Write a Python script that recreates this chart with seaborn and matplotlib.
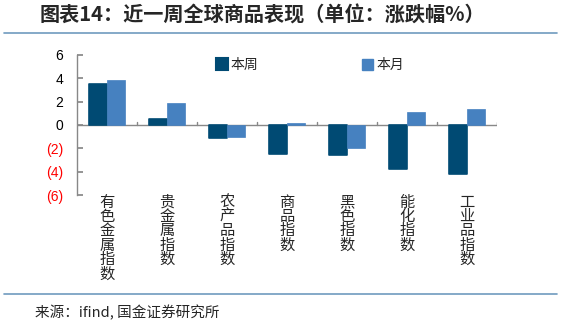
import matplotlib
matplotlib.use("Agg")
import matplotlib.pyplot as plt
import seaborn as sns
import pandas as pd
from matplotlib.patches import Patch
from matplotlib.lines import Line2D

categories = ["有色金属指数", "贵金属指数", "农产品指数", "商品指数", "黑色指数", "能化指数", "工业品指数"]
week_vals = [3.55, 0.55, -1.1, -2.5, -2.6, -3.8, -4.2]
month_vals = [3.9, 1.9, -1.05, 0.15, -2.0, 1.15, 1.35]
series_names = ["本周", "本月"]
yticks = [6, 4, 2, 0, -2, -4, -6]
title = "图表14：近一周全球商品表现（单位：涨跌幅%）"
source = "来源：ifind, 国金证券研究所"

sns.set_theme(style="white")
plt.rcParams['font.family'] = ['Noto Sans CJK SC', 'DejaVu Sans']

dark = "#004a73"
light = "#4681c0"

df = pd.DataFrame({
    "cat": categories * 2,
    "series": [series_names[0]] * len(categories) + [series_names[1]] * len(categories),
    "val": week_vals + month_vals,
})

fig = plt.figure(figsize=(5.61, 3.26), dpi=100)
ax = fig.add_axes([77/561, 1-195/326, 420/561, 140/326])

sns.barplot(data=df, x="cat", y="val", hue="series", palette=[dark, light],
            width=0.6, ax=ax, legend=False, saturation=1)
for i, p in enumerate(ax.patches):
    if i < len(categories):
        p.set_edgecolor(dark)
        p.set_linewidth(1.2)
        p.set_joinstyle("round")
    else:
        p.set_edgecolor(light)
        p.set_linewidth(0.5)

ax.set_xlim(-0.5, len(categories) - 0.5)
ax.set_ylim(-6, 6)
ax.set_yticks(yticks)
labels = ax.set_yticklabels([f"({-t})" if t < 0 else str(t) for t in yticks],
                            family=['Liberation Sans'], fontsize=10)
for t, lab in zip(yticks, labels):
    lab.set_color("red" if t < 0 else "black")
ax.tick_params(axis='y', direction='in', length=4, color="#888888", pad=10, left=True)

ax.set_xticks(range(len(categories)))
ax.set_xticklabels(["\n".join(c) for c in categories], fontsize=11, linespacing=0.8, va='top')
ax.tick_params(axis='x', length=0, pad=-1)
ax.set_xlabel("")
ax.set_ylabel("")

for s in ["top", "right", "bottom"]:
    ax.spines[s].set_visible(False)
ax.spines["left"].set_color("#888888")
ax.spines["left"].set_linewidth(1)
ax.axhline(0, color="#888888", lw=1, zorder=0.5)
for b in range(len(categories)):
    ax.plot([b + 0.5, b + 0.5], [0, 0.25], color="#888888", lw=1)

handles = [Line2D([0], [0], marker='s', ls='', markersize=9, markerfacecolor=dark,
                  markeredgecolor=dark, markeredgewidth=1.5),
           Patch(facecolor=light, edgecolor=light)]
fig.legend(handles, series_names, loc="center", bbox_to_anchor=(0.553, 0.80), ncol=2,
           frameon=False, fontsize=10, columnspacing=7.5, handlelength=0.8,
           handletextpad=0.2, handleheight=0.8)

fig.text(40/561, 1-15/326, title, fontsize=14.5, fontweight='bold',
         va='center', ha='left')
fig.add_artist(Line2D([4/561, 557/561], [1-33/326, 1-33/326], color="#6f9bbf", lw=1.2))
fig.add_artist(Line2D([4/561, 557/561], [1-294/326, 1-294/326], color="#6f9bbf", lw=1.2))
fig.text(35/561, 1-313/326, source, fontsize=10.5, va='center', ha='left')

fig.savefig("out.png", dpi=100)
